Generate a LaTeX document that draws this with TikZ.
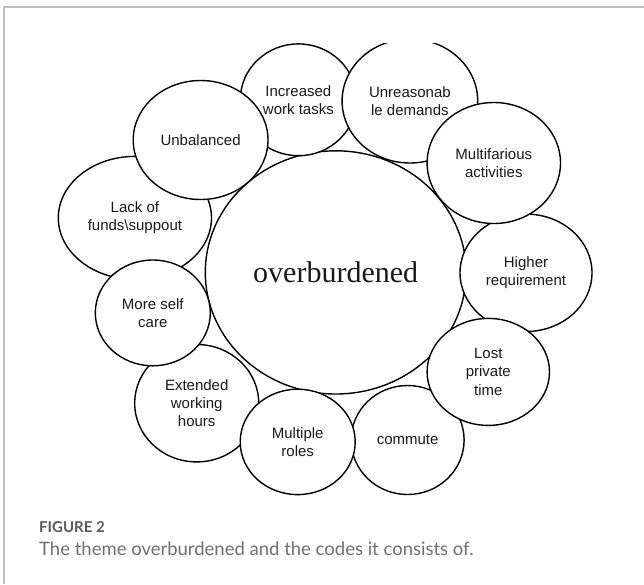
\documentclass[tikz,border=0pt]{standalone}
\usepackage{fontspec}
\setmainfont{Liberation Sans}
\newfontfamily\serifm{Liberation Serif}
\newfontfamily\capfont{Lato}
\usetikzlibrary{shapes.geometric}
\definecolor{framegray}{HTML}{BDBDBD}
\definecolor{capgray}{HTML}{707070}
\definecolor{figgray}{HTML}{5A5A5A}
\definecolor{inkc}{HTML}{1A1A1A}
\begin{document}
\begin{tikzpicture}[x=1pt,y=-1pt,
  bub/.style={ellipse, draw=black, line width=1.4pt, fill=white, inner sep=0pt,
    align=center, text=inkc, font=\fontsize{15}{18.3}\selectfont},
  capstyle/.style={anchor=base west, inner sep=0pt}]
\useasboundingbox[fill=white] (0,0) rectangle (644,584);
\coordinate (frtr) at (644,6.5);
\coordinate (frtl) at (3.5,6.5);
\coordinate (frbl) at (3.5,584);
\draw[framegray, line width=2pt] (frtr) -- (frtl) -- (frbl);
\begin{scope}
\clip (0,43) rectangle (644,520);
\node[bub, minimum width=260.8pt, minimum height=243.2pt,
  font=\serifm\fontsize{30}{36}\selectfont] (center) at (335.7,272.4) {overburdened};
\node[bub, minimum width=116.2pt, minimum height=111.8pt] (inc) at (298.4,99.8) {Increased\\work tasks};
\node[bub, minimum width=153.2pt, minimum height=123pt] (lack) at (134.9,217.9) {Lack of\\funds\textbackslash suppout};
\node[bub, minimum width=124pt, minimum height=117.4pt] (ext) at (196.7,403.2) {Extended\\working\\hours};
\node[bub, minimum width=113pt, minimum height=109pt] (com) at (407.6,440) {commute};
\node[bub, minimum width=132pt, minimum height=117.4pt] (hig) at (526,272.8) {Higher\\requirement};
\node[bub, minimum width=135.6pt, minimum height=124pt] (unr) at (409.9,101) {Unreasonab\\le demands};
\node[bub, minimum width=133.4pt, minimum height=121pt] (mul) at (493.8,163) {Multifarious\\activities};
\node[bub, minimum width=122.4pt, minimum height=107pt] (lost) at (488.3,371.9) {Lost\\private\\time};
\node[bub, minimum width=115pt, minimum height=105.4pt] (mro) at (297.7,441.9) {Multiple\\roles};
\node[bub, minimum width=115pt, minimum height=105.8pt] (msc) at (152.8,312.9) {More self\\care};
\node[bub, minimum width=134.8pt, minimum height=119pt] (unb) at (200.6,140) {Unbalanced};
\end{scope}
\node[capstyle, text=figgray, font=\capfont\bfseries\fontsize{15}{17}\selectfont] (fig) at (39,532) {FIGURE 2};
\node[capstyle, text=capgray, font=\capfont\fontsize{18.5}{22}\selectfont] (cap) at (39,555) {The theme overburdened and the codes it consists of.};
\end{tikzpicture}
\end{document}
